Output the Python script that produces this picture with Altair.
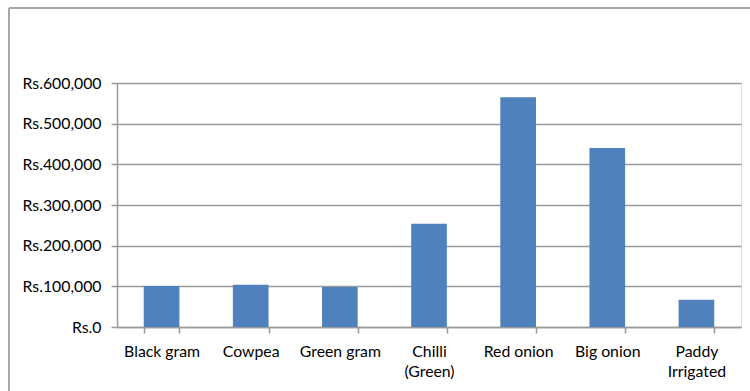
import altair as alt
import pandas as pd

# Crop values (Rs.)
crops = ["Black gram", "Cowpea", "Green gram", "Chilli\n(Green)",
         "Red onion", "Big onion", "Paddy\nIrrigated"]
values = [101000, 104000, 98500, 254000, 565000, 440000, 67000]
y_ticks = [0, 100000, 200000, 300000, 400000, 500000, 600000]

df = pd.DataFrame({"crop": crops, "value": values})

FONT = "Lato"
GRID = "#9A9A9A"
PLOT_W, PLOT_H = 624, 244

bars = alt.Chart(df).mark_bar(color="#4F81BD").encode(
    x=alt.X(
        "crop:N",
        sort=crops,
        title=None,
        scale=alt.Scale(paddingInner=0.6, paddingOuter=0.3),
        axis=alt.Axis(
            labelAngle=0,
            labelExpr="split(datum.label, '\\n')",
            labelLineHeight=20,
            labelFontSize=15.8,
            labelFont=FONT,
            labelColor="#000000",
            labelPadding=11,
            tickBand="extent",
            tickSize=6,
            tickColor=GRID,
            tickWidth=1.5,
            domainColor=GRID,
            domainWidth=1.5,
            grid=False,
        ),
    ),
    y=alt.Y(
        "value:Q",
        title=None,
        scale=alt.Scale(domain=[0, 600000], nice=False),
        axis=alt.Axis(
            values=y_ticks,
            labelExpr="'Rs.' + format(datum.value, ',')",
            labelFontSize=15.8,
            labelFont=FONT,
            labelColor="#000000",
            labelPadding=10,
            tickSize=6,
            tickColor=GRID,
            tickWidth=1.5,
            domainColor=GRID,
            domainWidth=1.5,
            gridColor=GRID,
            gridWidth=1.5,
        ),
    ),
)

# Outer chart frame (left and top edges)
frame_left = alt.Chart(df).mark_rule(color="#A8A8A8", strokeWidth=1.5).encode(
    x=alt.value(-108), y=alt.value(-75), y2=alt.value(PLOT_H + 70)
)
frame_top = alt.Chart(df).mark_rule(color="#A8A8A8", strokeWidth=1.5).encode(
    x=alt.value(-108), x2=alt.value(PLOT_W + 20), y=alt.value(-75)
)

chart = alt.layer(bars, frame_left, frame_top).properties(
    width=PLOT_W,
    height=PLOT_H,
    autosize=alt.AutoSizeParams(type="none"),
    padding={"left": 117, "top": 83, "right": 9, "bottom": 64},
).configure_view(stroke=None).configure(background="white")

chart.save("out.html", embed_options={"renderer": "svg", "actions": False})
